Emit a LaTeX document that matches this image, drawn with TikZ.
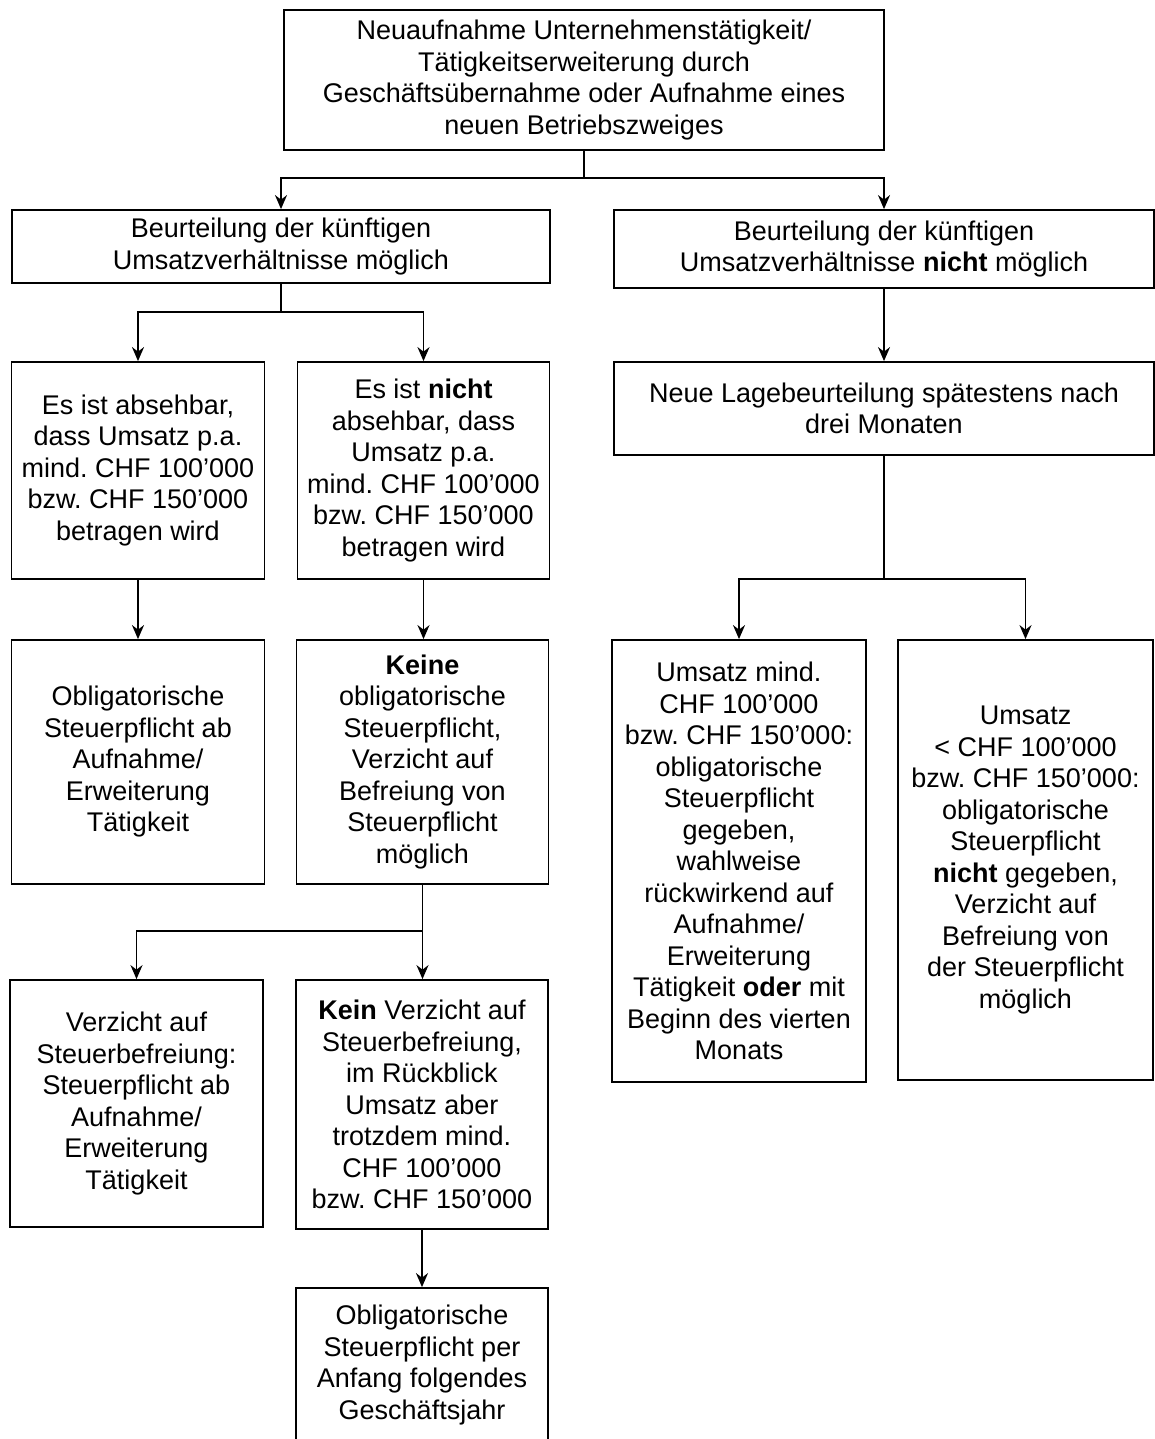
\documentclass[tikz,border=0pt]{standalone}
\usepackage{fontspec}
\setmainfont{Liberation Sans}
\usetikzlibrary{arrows.meta}
\frenchspacing
\begin{document}
\begin{tikzpicture}[x=1pt,y=-1pt,
  box/.style={draw, line width=1.8pt, align=center, inner sep=0pt,
    font=\fontsize{27}{31.5}\selectfont},
  arr/.style={line width=1.8pt, -{Stealth[length=14pt,width=12pt]}},
  ln/.style={line width=1.8pt}]
\useasboundingbox (0,0) rectangle (1155,1439);
\clip (0,0) rectangle (1155,1439);
\fill[white] (0,0) rectangle (1155,1439);

\node[box, minimum width=600pt, minimum height=140pt] (top) at (584,80)
  {Neuaufnahme Unternehmenstätigkeit/\\Tätigkeitserweiterung durch\\Geschäftsübernahme oder Aufnahme eines\\neuen Betriebszweiges};
\node[box, minimum width=538pt, minimum height=73pt] (L1) at (281,246.5)
  {Beurteilung der künftigen\\Umsatzverhältnisse möglich};
\node[box, minimum width=540pt, minimum height=78pt] (R1) at (884,249)
  {Beurteilung der künftigen\\Umsatzverhältnisse \textbf{nicht} möglich};
\node[box, minimum width=253pt, minimum height=217pt] (A) at (138,470.5)
  {Es ist absehbar,\\dass Umsatz p.a.\\mind. CHF 100'000\\bzw. CHF 150'000\\betragen wird};
\node[box, minimum width=252pt, minimum height=217pt] (B) at (423.5,470.5)
  {Es ist \textbf{nicht}\\absehbar, dass\\Umsatz p.a.\\mind. CHF 100'000\\bzw. CHF 150'000\\betragen wird};
\node[box, minimum width=253pt, minimum height=244pt] (C) at (138,762)
  {Obligatorische\\Steuerpflicht ab\\Aufnahme/\\Erweiterung\\Tätigkeit};
\node[box, minimum width=252pt, minimum height=244pt] (D) at (422.5,762)
  {\textbf{Keine}\\obligatorische\\Steuerpflicht,\\Verzicht auf\\Befreiung von\\Steuerpflicht\\möglich};
\node[box, minimum width=253pt, minimum height=247pt] (E) at (136.5,1103.5)
  {Verzicht auf\\Steuerbefreiung:\\Steuerpflicht ab\\Aufnahme/\\Erweiterung\\Tätigkeit};
\node[box, minimum width=252pt, minimum height=249pt] (F) at (422,1104.5)
  {\textbf{Kein} Verzicht auf\\Steuerbefreiung,\\im Rückblick\\Umsatz aber\\trotzdem mind.\\CHF 100'000\\bzw. CHF 150'000};
\node[box, minimum width=252pt, minimum height=154pt] (G) at (422,1365)
  {Obligatorische\\Steuerpflicht per\\Anfang folgendes\\Geschäftsjahr};
\node[box, minimum width=540pt, minimum height=93pt] (R2) at (884,408.5)
  {Neue Lagebeurteilung spätestens nach\\drei Monaten};
\node[box, minimum width=254pt, minimum height=442pt] (R3) at (739,861)
  {Umsatz mind.\\CHF 100'000\\bzw. CHF 150'000:\\obligatorische\\Steuerpflicht\\gegeben,\\wahlweise\\rückwirkend auf\\Aufnahme/\\Erweiterung\\Tätigkeit \textbf{oder} mit\\Beginn des vierten\\Monats};
\node[box, minimum width=255pt, minimum height=440pt] (R4) at (1025.5,860)
  {Umsatz\\< CHF 100'000\\bzw. CHF 150'000:\\obligatorische\\Steuerpflicht\\\textbf{nicht} gegeben,\\Verzicht auf\\Befreiung von\\der Steuerpflicht\\möglich};

% connectors
\coordinate (j1) at (584,178);
\draw[ln] (top.south) -- (j1);
\draw[arr] (j1) -| (L1.north);
\draw[arr] (j1) -| (R1.north);

\coordinate (j2) at (281,312);
\draw[ln] (L1.south) -- (j2);
\draw[arr] (j2) -| (A.north);
\draw[arr] (j2) -| (B.north);

\draw[arr] (A.south) -- (C.north);
\draw[arr] (B.south) -- (B.south |- D.north);

\coordinate (j3) at (422.5,931);
\draw[ln] (D.south) -- (j3);
\draw[arr] (j3) -| (E.north);
\draw[arr] (j3) -- (j3 |- F.north);
\draw[arr] (F.south) -- (G.north);

\draw[arr] (R1.south) -- (R2.north);
\coordinate (j4) at (884,579);
\draw[ln] (R2.south) -- (j4);
\draw[arr] (j4) -| (R3.north);
\draw[arr] (j4) -| (R4.north);
\end{tikzpicture}
\end{document}
